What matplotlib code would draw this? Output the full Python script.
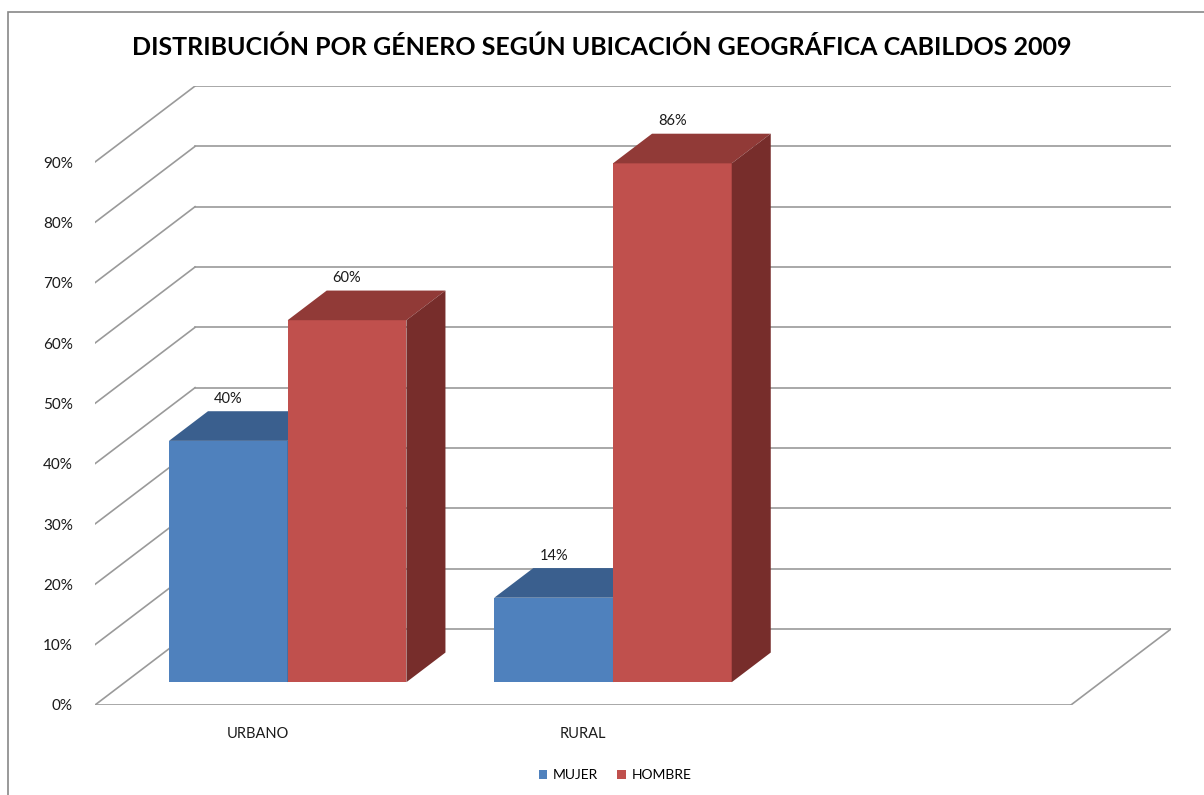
import matplotlib
matplotlib.use("Agg")
import matplotlib.pyplot as plt
from matplotlib.patches import Polygon, Patch, Rectangle

# datos
categorias = ["URBANO", "RURAL", ""]
series = ["MUJER", "HOMBRE"]
mujer = [40, 14]
hombre = [60, 86]
ticks = [0, 10, 20, 30, 40, 50, 60, 70, 80, 90]

colores = {
    "MUJER": ("#4F81BD", "#3A5F8E", "#2F4D73"),
    "HOMBRE": ("#C0504D", "#913A37", "#772D2B"),
}

plt.rcParams["font.family"] = ["Lato", "DejaVu Sans"]

# perspectiva oblicua (en unidades de datos)
DX = 0.3077   # fondo en x (categorias)
DY = 12.6     # fondo en y (porcentaje)
F0, F1 = 0.30, 0.69   # profundidad delante / detras de las barras
ANCHO = 0.365
GRIS = "#9a9a9a"

fig = plt.figure(figsize=(12.04, 7.95), dpi=100)
ax = fig.add_axes([95 / 1204, 1 - 705 / 795, (1171 - 95) / 1204, (705 - 86) / 795])
ax.set_xlim(0, len(categorias) + DX)
ax.set_ylim(0, ticks[-1] + DY)
for s in ax.spines.values():
    s.set_visible(False)

n = len(categorias)
# paredes: lineas de la cuadricula
for t in ticks:
    ax.plot([0, DX], [t, t + DY], color=GRIS, lw=1.2, zorder=1)
    ax.plot([DX, n + DX], [t + DY, t + DY], color=GRIS, lw=1.2, zorder=1)
ax.plot([0, n], [0, 0], color=GRIS, lw=1.2, zorder=1)
ax.plot([n, n + DX], [0, DY], color=GRIS, lw=1.2, zorder=1)


def barra(x0, h, serie):
    front, top, side = colores[serie]
    x1 = x0 + ANCHO
    ax0, ay0 = F0 * DX, F0 * DY
    ax1, ay1 = F1 * DX, F1 * DY
    ax.add_patch(Polygon([(x0 + ax0, ay0), (x1 + ax0, ay0), (x1 + ax0, h + ay0), (x0 + ax0, h + ay0)],
                         closed=True, facecolor=front, edgecolor="none", zorder=3))
    ax.add_patch(Polygon([(x0 + ax0, h + ay0), (x1 + ax0, h + ay0), (x1 + ax1, h + ay1), (x0 + ax1, h + ay1)],
                         closed=True, facecolor=top, edgecolor="none", zorder=3))
    ax.add_patch(Polygon([(x1 + ax0, ay0), (x1 + ax1, ay1), (x1 + ax1, h + ay1), (x1 + ax0, h + ay0)],
                         closed=True, facecolor=side, edgecolor="none", zorder=3))
    ax.annotate(f"{h}%", ((x0 + x1) / 2 + ax0, h + ay1), xytext=(0, 4), textcoords="offset points",
                ha="center", va="bottom", fontsize=10.5, color="#1a1a1a", zorder=4)


for i, (m, h) in enumerate(zip(mujer, hombre)):
    inicio = i + 0.5 - ANCHO
    barra(inicio, m, "MUJER")
    barra(inicio + ANCHO, h, "HOMBRE")

ax.set_yticks(ticks)
ax.set_yticklabels([f"{t}%" for t in ticks], fontsize=11, color="#1a1a1a")
ax.set_xticks([i + 0.5 for i in range(n)])
ax.set_xticklabels(categorias, fontsize=10.5, color="#1a1a1a")
ax.tick_params(length=0, axis="y", pad=16)
ax.tick_params(length=0, axis="x", pad=16)

fig.text(602 / 1204, 1 - 47 / 795, "DISTRIBUCIÓN POR GÉNERO SEGÚN UBICACIÓN GEOGRÁFICA CABILDOS 2009",
         ha="center", va="center", fontsize=18, fontweight="bold")

fig.patches.append(Rectangle((8 / 1204, -0.05), 1.1, 1 - 12 / 795 + 0.05, transform=fig.transFigure,
                             fill=False, edgecolor="#888888", lw=1.2))

handles = [Patch(facecolor=colores[s][0], label=s) for s in series]
fig.legend(handles=handles, loc="center", bbox_to_anchor=(615 / 1204, 1 - 775 / 795), ncol=2,
           frameon=False, fontsize=10, handlelength=0.6, handleheight=0.6, handletextpad=0.4,
           columnspacing=1.4)

fig.savefig("out.png", dpi=100)
